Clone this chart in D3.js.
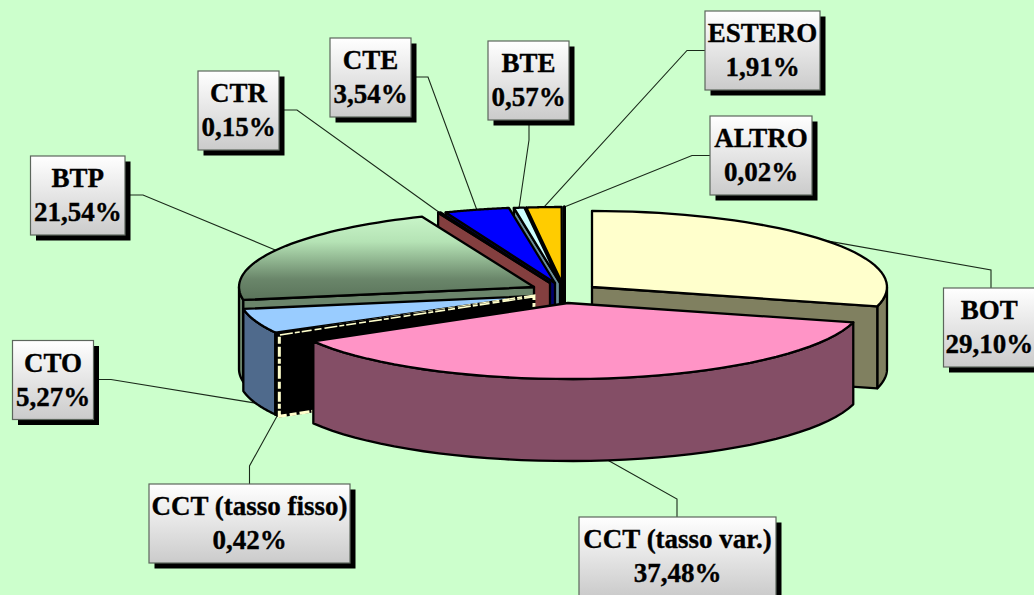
<!DOCTYPE html>
<html>
<head>
<meta charset="utf-8">
<script src="https://cdn.jsdelivr.net/npm/d3@7/dist/d3.min.js"></script>
<style>
html,body{margin:0;padding:0;background:#ccffcc;overflow:hidden}
svg{display:block}
text{font-family:"Liberation Serif",serif;font-weight:bold;font-size:27px;fill:#000;stroke:#000;stroke-width:0.35px;text-anchor:middle}
</style>
</head>
<body>
<svg id="chart" width="1034" height="595"></svg>
<script>
// Data (clockwise from 12 o'clock)
const categories = ["BOT","CCT (tasso var.)","CCT (tasso fisso)","CTO","BTP","CTR","CTE","BTE","ESTERO","ALTRO"];
const shares = [29.10,37.48,0.42,5.27,21.54,0.15,3.54,0.57,1.91,0.02];
const shareLabels = ["29,10%","37,48%","0,42%","5,27%","21,54%","0,15%","3,54%","0,57%","1,91%","0,02%"];
const topColors = ["#ffffcc","#ff94c6","#000000","#99ccff","url(#btpTop)","#843c3c","#0000ff","#ccffff","#ffcc00","#000000"];
const wallColors = ["#808060","#844e66","#000000","#4f6a8c","#6b856b","#843f3f","#00006e","#6b8e9a","#000000","#000000"];

// Layout (not data)
const rx = 295, ry = 76, depth = 82;
const sliceCenters = [[592,287],[568,303],[534,296],[534,296],[534,287],[550,283],[555,283],[560,283],[562,283],[564.5,283]];
const labelBoxes = [[943.5,288,91.5,79],[579,517,197,79],[149,484,201,79],[12.5,340.5,81,79],[30.5,156,94.5,79],[198,71,81,79],[330,38,81,79],[488,41,81,79],[705,11,115,79],[710,116,102,79]];
const leaderElbows = [[[991,288],[991,270]],[[677,517],[677,499]],[[249.5,484],[249.5,466]],[[94,379.5],[111,379.5]],[[125,195],[143,195]],[[279,110],[297,110]],[[411,77],[428,77]],[[529,120],[529,140]],[[705,50.5],[687,50.5]],[[710,155.5],[692,155.5]]];
const drawOrder = [0,9,8,7,6,5,4,3,2,1];

const svg = d3.select("#chart");
const defs = svg.append("defs");
const boxGrad = defs.append("linearGradient").attr("id","boxFill").attr("x1",0).attr("y1",0).attr("x2",0).attr("y2",1);
boxGrad.append("stop").attr("offset",0).attr("stop-color","#ffffff");
boxGrad.append("stop").attr("offset",1).attr("stop-color","#cbcbcb");
const btpGrad = defs.append("linearGradient").attr("id","btpTop").attr("x1",0).attr("y1",0).attr("x2",0).attr("y2",1);
btpGrad.append("stop").attr("offset",0).attr("stop-color","#c8f5c8");
btpGrad.append("stop").attr("offset",0.3).attr("stop-color","#b5e3b5");
btpGrad.append("stop").attr("offset",0.75).attr("stop-color","#6a866a");
btpGrad.append("stop").attr("offset",1).attr("stop-color","#5a735a");

svg.append("rect").attr("width",1034).attr("height",595).attr("fill","#ccffcc");

const arcs = d3.pie().sort(null).value(d=>d)(shares);
const rimX = d3.scaleLinear().domain([-1,1]).range([-rx,rx]);
const rimY = d3.scaleLinear().domain([-1,1]).range([-ry,ry]);
const rim = (i,a,dz=0)=>[sliceCenters[i][0]+rimX(Math.sin(a)), sliceCenters[i][1]-rimY(Math.cos(a))+dz];
const line = d3.line();
const sample = (a0,a1)=>d3.range(0,41).map(k=>a0+(a1-a0)*k/40);

// Leaders
const frontHalf = a => Math.cos(a) < 0;
arcs.forEach((arc,i)=>{
  const mid=(arc.startAngle+arc.endAngle)/2;
  const end=rim(i,mid,frontHalf(mid)?depth:0);
  svg.append("path").attr("d",line([...leaderElbows[i],end])).attr("fill","none").attr("stroke","#1a2a1a").attr("stroke-width",1.1);
});

// Slices, back to front
const HALF=Math.PI/2, PI=Math.PI;
drawOrder.forEach(i=>{
  const {startAngle:a0,endAngle:a1}=arcs[i];
  const g=svg.append("g");
  const apex=sliceCenters[i], style=(sel,fill)=>sel.attr("fill",fill).attr("stroke","#000").attr("stroke-width",i===9?3:2.3).attr("stroke-linejoin","round");
  const w0=Math.max(a0,HALF), w1=Math.min(a1,3*HALF);
  if(w1>w0){
    const t=sample(w0,w1);
    const pts=[...t.map(a=>rim(i,a)),...t.slice().reverse().map(a=>rim(i,a,depth))];
    style(g.append("path").attr("d",line(pts)+"Z"),wallColors[i]);
  }
  const face=a=>[apex,rim(i,a),rim(i,a,depth),[apex[0],apex[1]+depth]];
  if(Math.sin(a0)<0){
    style(g.append("path").attr("d",line(face(a0))+"Z"),wallColors[i]);
    if(i===2) g.append("path").attr("d",line(face(a0))+"Z").attr("fill","none").attr("stroke","#ffffcc").attr("stroke-width",3).attr("stroke-dasharray","10 2 5 2 13 3 7 3");
  }
  if(Math.sin(a1)>0 && a1<PI) style(g.append("path").attr("d",line(face(a1))+"Z"),wallColors[i]);
  const topPts=[apex,...sample(a0,a1).map(a=>rim(i,a))];
  if(i===2) g.append("path").attr("d",line(topPts)+"Z").attr("fill","#000");
  else style(g.append("path").attr("d",line(topPts)+"Z"),topColors[i]);
});

// Label boxes
labelBoxes.forEach((b,i)=>{
  const [x,y,w,h]=b;
  const g=svg.append("g");
  g.append("rect").attr("x",x+5.5).attr("y",y+5.5).attr("width",w).attr("height",h).attr("fill","#000");
  g.append("rect").attr("x",x).attr("y",y).attr("width",w).attr("height",h).attr("fill","url(#boxFill)").attr("stroke","#5c665c").attr("stroke-width",1.2);
  g.append("text").attr("x",x+w/2).attr("y",y+31).text(categories[i]);
  g.append("text").attr("x",x+w/2).attr("y",y+65).text(shareLabels[i]);
});
</script>
</body>
</html>
